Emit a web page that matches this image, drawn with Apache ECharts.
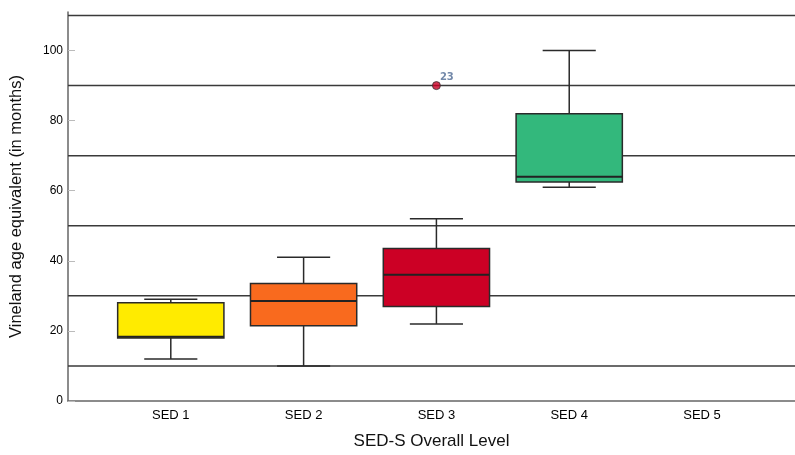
<!DOCTYPE html>
<html>
<head>
<meta charset="utf-8">
<script src="https://cdn.jsdelivr.net/npm/echarts@6/dist/echarts.min.js"></script>
<style>html,body{margin:0;padding:0;background:#fff}#c{width:795px;height:455px}</style>
</head>
<body>
<div id="c"></div>
<script>
const categories = ['SED 1', 'SED 2', 'SED 3', 'SED 4', 'SED 5'];
const minVals    = [12, 10, 22, 61];
const q1Vals     = [18, 21.5, 27, 62.5];
const medianVals = [18.3, 28.5, 36, 64];
const q3Vals     = [28, 33.5, 43.5, 82];
const maxVals    = [29, 41, 52, 100];
const boxColors  = ['#FFEB00', '#F96A1E', '#CC0025', '#33B87C'];
const outliers   = [{ cat: 3, value: 90, label: '23' }];
const yLabelValues = [0, 20, 40, 60, 80, 100];
const gridValues   = [10, 30, 50, 70, 90, 110];

const boxData = minVals.map((m, i) => ({
  value: [i + 1, m, q1Vals[i], medianVals[i], q3Vals[i], maxVals[i]]
}));

const chart = echarts.init(document.getElementById('c'));
const stroke = '#2a2a2a';
const font = 'Liberation Sans, Arial';
chart.setOption({
  animation: false,
  grid: { left: 68, right: 0, top: 12, bottom: 52, containLabel: false },
  xAxis: {
    type: 'value', min: 0.226, max: 5.7,
    name: 'SED-S Overall Level', nameLocation: 'middle', nameGap: 32,
    nameTextStyle: { fontFamily: font, fontSize: 17, color: '#111' },
    axisLine: { show: true, lineStyle: { color: '#666', width: 1.5 } },
    axisTick: { show: false },
    splitLine: { show: false },
    axisLabel: {
      customValues: categories.map((c, i) => i + 1),
      formatter: v => categories[Math.round(v) - 1] || '',
      fontFamily: font, fontSize: 13, color: '#000', margin: 8
    }
  },
  yAxis: {
    type: 'value', min: 0, max: 111,
    name: 'Vineland age equivalent (in months)', nameLocation: 'middle', nameGap: 43,
    nameTextStyle: { fontFamily: font, fontSize: 16.5, color: '#111' },
    axisLine: { show: true, lineStyle: { color: '#666', width: 1.5 } },
    axisTick: { show: true, inside: true, length: 7, customValues: yLabelValues, lineStyle: { color: '#bbb' } },
    splitLine: { show: false },
    axisLabel: {
      customValues: yLabelValues,
      fontFamily: font, fontSize: 12, color: '#000', margin: 5
    }
  },
  series: [
    {
      type: 'custom', z: 1, silent: true,
      encode: { y: 0 },
      data: gridValues.map(v => [v]),
      renderItem: function (params, api) {
        const cs = params.coordSys;
        const y = api.coord([1, api.value(0)])[1];
        return {
          type: 'line',
          shape: { x1: cs.x, y1: y, x2: cs.x + cs.width, y2: y },
          style: { stroke: '#3a3a3a', lineWidth: 1.5 }
        };
      }
    },
    {
      type: 'custom', z: 3,
      encode: { x: 0, y: [1, 2, 3, 4, 5] },
      data: boxData,
      renderItem: function (params, api) {
        const x = api.value(0);
        const pMin = api.coord([x, api.value(1)]);
        const pQ1 = api.coord([x, api.value(2)]);
        const pMed = api.coord([x, api.value(3)]);
        const pQ3 = api.coord([x, api.value(4)]);
        const pMax = api.coord([x, api.value(5)]);
        const bw = api.size([0.8, 0])[0];
        const cw = api.size([0.4, 0])[0];
        const color = boxColors[params.dataIndex];
        const ls = { stroke: stroke, lineWidth: 1.5 };
        return {
          type: 'group',
          children: [
            { type: 'line', shape: { x1: pMin[0], y1: pMin[1], x2: pQ1[0], y2: pQ1[1] }, style: ls },
            { type: 'line', shape: { x1: pQ3[0], y1: pQ3[1], x2: pMax[0], y2: pMax[1] }, style: ls },
            { type: 'line', shape: { x1: pMin[0] - cw / 2, y1: pMin[1], x2: pMin[0] + cw / 2, y2: pMin[1] }, style: ls },
            { type: 'line', shape: { x1: pMax[0] - cw / 2, y1: pMax[1], x2: pMax[0] + cw / 2, y2: pMax[1] }, style: ls },
            { type: 'rect', shape: { x: pQ3[0] - bw / 2, y: pQ3[1], width: bw, height: pQ1[1] - pQ3[1] },
              style: { fill: color, stroke: stroke, lineWidth: 1.5 } },
            { type: 'line', shape: { x1: pMed[0] - bw / 2, y1: pMed[1], x2: pMed[0] + bw / 2, y2: pMed[1] },
              style: { stroke: '#222', lineWidth: 2 } }
          ]
        };
      }
    },
    {
      type: 'scatter', z: 5,
      symbol: 'circle', symbolSize: 8,
      data: outliers.map(o => ({ value: [o.cat, o.value], name: o.label })),
      itemStyle: { color: '#CC0025', borderColor: '#333', borderWidth: 1 },
      label: {
        show: true, formatter: p => p.name, position: [8, -9],
        fontFamily: 'DejaVu Sans, Arial', fontSize: 10, fontWeight: 'bold', color: '#4f6a94'
      }
    }
  ]
});
</script>
</body>
</html>
